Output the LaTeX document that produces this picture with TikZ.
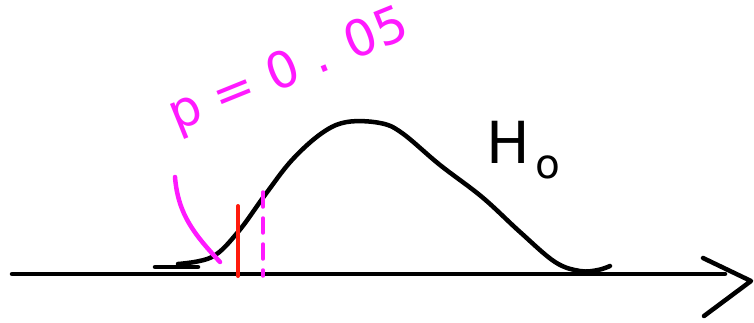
\documentclass[tikz,border=0pt]{standalone}
\usepackage{fontspec}
\setsansfont{DejaVu Sans}
\definecolor{pen}{HTML}{FF1AFF}
\definecolor{redpen}{HTML}{FF1A0D}

\begin{document}
\begin{tikzpicture}[x=1pt, y=-1pt, line cap=round, line join=round]
  \useasboundingbox (0,0) rectangle (754,323);
  \tikzset{ink/.style={line width=4.5pt}}
  % axis with open arrow head
  \coordinate (o) at (12,274);
  \coordinate (xend) at (725,274);
  \draw[ink] (o) -- (xend);
  \draw[ink] (703,258) -- (751,281) -- (704,316);
  % null distribution
  \draw[ink] (155,267) -- (198,267);
  \draw[ink] plot[smooth, tension=0.6] coordinates {(178,264) (212,257) (238,232) (265,195) (292,160) (322,133) (347,122) (380,123) (402,133) (440,165) (482,197) (520,232) (555,262) (580,271) (598,270) (610,266)};
  % critical value and observed value
  \draw[redpen, line width=4pt] (238,206) -- (238,276);
  \draw[pen, line width=3.5pt, dash pattern=on 15pt off 11pt] (263,192) -- (263,276);
  \draw[pen, ink] (175,177) .. controls (178,215) and (195,235) .. (220,262);
  % labels
  \node[pen, rotate=22, font=\sffamily\fontsize{50}{56}\selectfont] (pval) at (289,72) {p = 0 . 05};
  \node[font=\sffamily\fontsize{58}{64}\selectfont, anchor=base west, inner sep=0pt] (hnull) at (486,164) {H\kern6pt$_{\mathsf{o}}$};
\end{tikzpicture}
\end{document}
